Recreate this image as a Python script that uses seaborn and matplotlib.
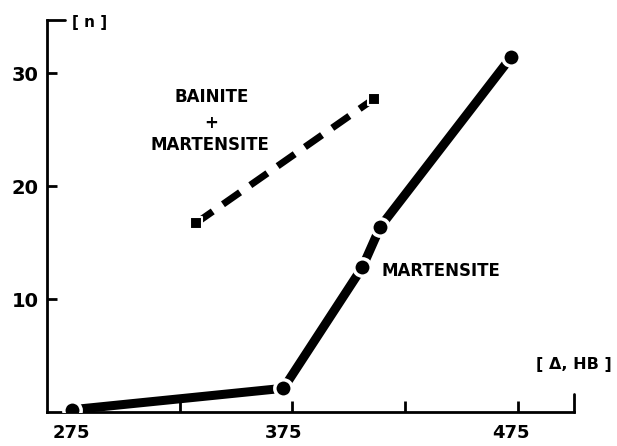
import numpy as np
import pandas as pd
import matplotlib
matplotlib.use("Agg")
import matplotlib.pyplot as plt
from matplotlib.lines import Line2D
import seaborn as sns

# values
mart_hb = [277, 371, 406, 414, 472]
mart_n = [0.2, 2.1, 12.8, 16.4, 31.4]
bain_hb = [332, 411]
bain_n = [16.7, 27.7]

xlabel_pos = [277, 371, 472]
xlabel_txt = ["275", "375", "475"]
xminor = [325, 375, 425, 475]
yticks = [10, 20, 30]

mart = pd.DataFrame({"HB": mart_hb, "n": mart_n})
bain = pd.DataFrame({"HB": bain_hb, "n": bain_n})

sns.set_style("ticks")
plt.rcParams["font.family"] = ["DejaVu Sans"]
plt.rcParams["font.weight"] = "bold"
plt.rcParams["text.color"] = "black"

fig = plt.figure(figsize=(6.17, 4.46), dpi=100)
ax = fig.add_axes([47 / 617, 34 / 446, (574 - 47) / 617, (412 - 20) / 446])

# martensite: thick solid line, circles with white rim (gaps at the dots)
sns.lineplot(data=mart, x="HB", y="n", ax=ax, color="black", linewidth=6.5,
             marker="o", markersize=12.5, markeredgecolor="white",
             markeredgewidth=2.5, zorder=3)
# bainite + martensite: thick dashed line with squares
sns.lineplot(data=bain, x="HB", y="n", ax=ax, color="black", linewidth=5,
             dashes=False, zorder=3)
ax.lines[-1].set_dashes([3.0, 1.8])
sns.scatterplot(data=bain, x="HB", y="n", ax=ax, color="black", marker="s",
                s=85, edgecolor="white", linewidth=1.5, zorder=4)

ax.set_xlim(266, 500)
ax.set_ylim(0, 34.7)

sns.despine(ax=ax)
for s in ["left", "bottom"]:
    ax.spines[s].set_linewidth(2)
    ax.spines[s].set_color("black")

ax.set_yticks(yticks)
ax.set_yticklabels([str(v) for v in yticks], fontsize=14, fontweight="bold")
ax.tick_params(axis="y", direction="in", length=7, width=2, pad=6,
               colors="black", labelcolor="black")

ax.set_xticks(xlabel_pos)
ax.set_xticklabels(xlabel_txt, fontsize=13, fontweight="bold")
ax.set_xticks(xminor, minor=True)
ax.tick_params(axis="x", which="major", length=0, pad=9, colors="black",
               labelcolor="black")
ax.tick_params(axis="x", which="minor", direction="in", length=8, width=2,
               colors="black")

ax.set_xlabel("")
ax.set_ylabel("")

# little hook at top of y axis and end stop on x axis
ax.add_line(Line2D([0, 0.035], [1, 1], transform=ax.transAxes, color="black",
                   lw=2, clip_on=False))
ax.add_line(Line2D([1, 1], [0, 0.045], transform=ax.transAxes, color="black",
                   lw=2, clip_on=False))

ax.text(277, 34.5, "[ n ]", fontsize=11, fontweight="bold", ha="left",
        va="center", clip_on=False)
ax.text(516.8, 4.2, "[ Δ, HB ]", fontsize=11.5, fontweight="bold", ha="right",
        va="center", clip_on=False)
ax.text(339, 27.9, "BAINITE", fontsize=12, fontweight="bold", ha="center",
        va="center")
ax.text(339, 25.6, "+", fontsize=12, fontweight="bold", ha="center",
        va="center")
ax.text(338.4, 23.6, "MARTENSITE", fontsize=12, fontweight="bold",
        ha="center", va="center")
ax.text(414.7, 12.5, "MARTENSITE", fontsize=12, fontweight="bold",
        ha="left", va="center")

fig.savefig("out.png", dpi=100)
